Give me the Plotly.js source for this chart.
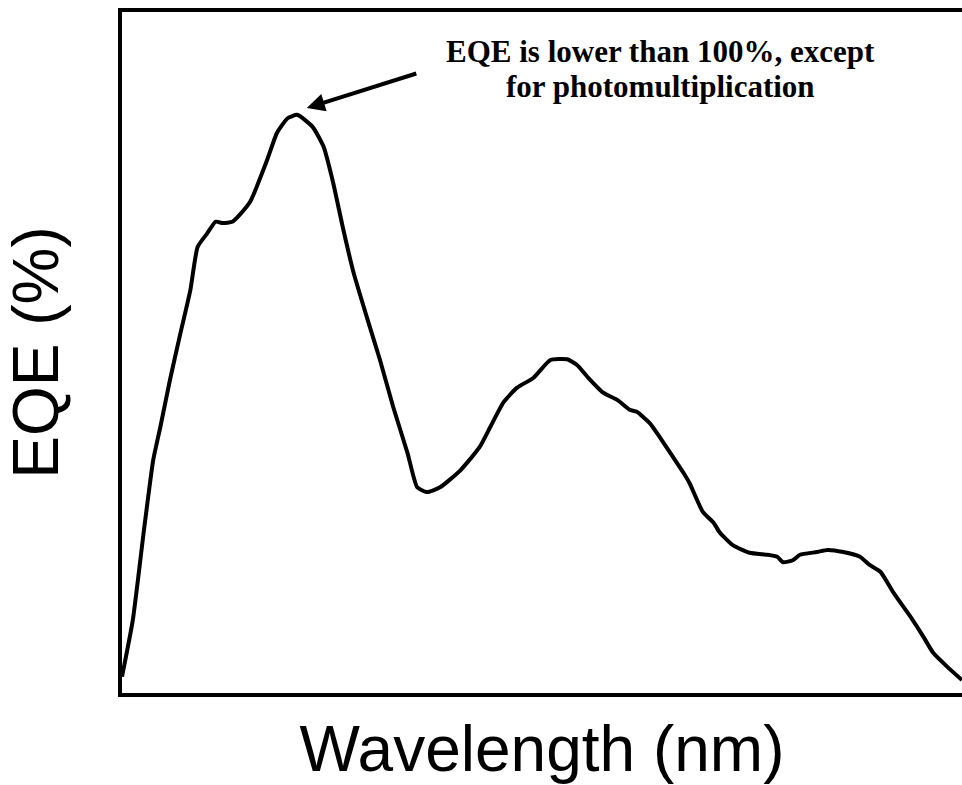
<!DOCTYPE html>
<html>
<head>
<meta charset="utf-8">
<script src="https://cdn.plot.ly/plotly-3.0.1.min.js"></script>
<style>html,body{margin:0;padding:0;background:#fff;}#chart{width:962px;height:785px;}</style>
</head>
<body>
<div id="chart"></div>
<script>
// Wavelength (nm, arbitrary scale – axis has no ticks)
const wavelength = [300, 309, 318, 326, 332, 340, 348, 357, 363, 371, 378, 384, 392, 398, 407, 421, 429, 438, 446, 459, 468, 476, 484, 493, 504, 515, 526, 538, 546, 554, 565, 582, 598, 607, 618, 629, 643, 657, 671, 679, 688, 701, 713, 723, 729, 740, 748, 759, 768, 773, 784, 793, 798, 809, 823, 838, 846, 851, 859, 865, 879, 888, 901, 915, 923, 932, 943, 957, 968, 976, 988, 1000];
// EQE (%)
const eqe = [2.4, 10.7, 23.5, 34.2, 39.1, 46.0, 52.3, 59.2, 65.5, 67.5, 69.2, 69.0, 69.2, 70.2, 72.2, 78.3, 82.2, 84.4, 84.9, 83.1, 80.2, 74.9, 68.4, 61.7, 55.2, 48.9, 42.0, 35.2, 30.2, 29.5, 30.2, 32.7, 36.1, 39.1, 42.7, 44.8, 46.3, 48.9, 49.0, 48.2, 46.4, 44.1, 43.0, 41.6, 41.3, 39.6, 37.6, 34.7, 32.3, 30.8, 26.6, 25.0, 23.6, 21.7, 20.6, 20.3, 20.0, 19.2, 19.5, 20.3, 20.7, 21.0, 20.7, 20.0, 18.8, 17.8, 14.7, 11.2, 8.2, 5.9, 3.8, 1.9];

const xTitle = "Wavelength (nm)";
const yTitle = "EQE (%)";
const noteLines = ["EQE is lower than 100%, except", "for photomultiplication"];
const peakIndex = eqe.indexOf(Math.max(...eqe));

const trace = {
  x: wavelength, y: eqe, type: "scatter", mode: "lines",
  line: {color: "#000", width: 4, shape: "spline", smoothing: 0.5},
  hoverinfo: "skip", showlegend: false
};

const noteFont = {family: "Liberation Serif, Times New Roman, serif", size: 31, color: "#000", weight: "bold"};
const titleFont = {family: "Liberation Sans, Arial, sans-serif", size: 64, color: "#000"};

const layout = {
  width: 962, height: 785,
  margin: {l: 122, r: 0, t: 12, b: 92},
  paper_bgcolor: "#fff", plot_bgcolor: "#fff",
  xaxis: {
    range: [300, 1000], showgrid: false, zeroline: false,
    showticklabels: false, ticks: "",
    showline: true, linecolor: "#000", linewidth: 4, mirror: true,
    title: {text: xTitle, font: titleFont, standoff: 33}
  },
  yaxis: {
    range: [0, 100], showgrid: false, zeroline: false,
    showticklabels: false, ticks: "",
    showline: true, linecolor: "#000", linewidth: 4,
    title: {text: yTitle, font: titleFont, standoff: 43}
  },
  annotations: [
    {
      xref: "paper", yref: "paper", x: 0.6405, y: 0.9413,
      text: noteLines[0], showarrow: false,
      font: noteFont, xanchor: "center", yanchor: "middle"
    },
    {
      xref: "paper", yref: "paper", x: 0.6405, y: 0.8913,
      text: noteLines[1], showarrow: false,
      font: noteFont, xanchor: "center", yanchor: "middle"
    },
    {
      x: wavelength[peakIndex] + 8, y: eqe[peakIndex] + 1,
      text: "", showarrow: true, arrowhead: 2, arrowsize: 0.9, arrowwidth: 4, arrowcolor: "#000",
      axref: "pixel", ayref: "pixel", ax: 111, ay: -35
    }
  ]
};

Plotly.newPlot("chart", [trace], layout, {displayModeBar: false, staticPlot: true});
</script>
</body>
</html>
